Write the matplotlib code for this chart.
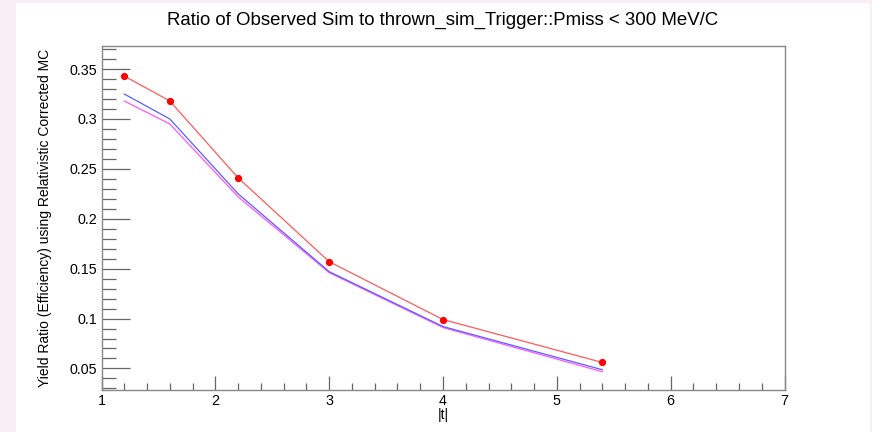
import matplotlib.pyplot as plt
from matplotlib.patches import Rectangle
from matplotlib.ticker import MultipleLocator

# valeurs
t_vals = [1.2, 1.6, 2.2, 3.0, 4.0, 5.4]
ratio_red = [0.343, 0.318, 0.241, 0.157, 0.099, 0.056]
ratio_blue = [0.325, 0.300, 0.225, 0.147, 0.092, 0.0487]
ratio_magenta = [0.318, 0.295, 0.222, 0.146, 0.091, 0.0467]

plt.rcParams['font.family'] = ['Liberation Sans', 'DejaVu Sans']

W, H = 872, 432
fig = plt.figure(figsize=(W / 100, H / 100), dpi=100)
fig.patch.set_facecolor('#f9eef3')
# zone blanche du canevas (derrière les axes)
fig.add_artist(Rectangle((16 / W, 0), (870 - 16) / W, (H - 3) / H,
                         transform=fig.transFigure, facecolor='white',
                         edgecolor='none', zorder=-10))

left, right, top, bottom = 101.5, 784.5, 45.7, 389.5
ax = fig.add_axes([left / W, 1 - bottom / H, (right - left) / W, (bottom - top) / H])
ax.set_facecolor('white')

ax.plot(t_vals, ratio_magenta, color='#ff55ff', lw=0.9)
ax.plot(t_vals, ratio_blue, color='#5c5cff', lw=0.9)
ax.plot(t_vals, ratio_red, color='#ff5a5a', lw=0.9, marker='o', ms=4.2,
        markerfacecolor='red', markeredgecolor='red')

ax.set_xlim(1, 7)
ax.set_ylim(0.0289, 0.3734)

ax.xaxis.set_major_locator(MultipleLocator(1))
ax.xaxis.set_minor_locator(MultipleLocator(0.2))
ax.yaxis.set_minor_locator(MultipleLocator(0.01))
ax.set_yticks([0.05, 0.1, 0.15, 0.2, 0.25, 0.3, 0.35])
ax.set_yticklabels(['0.05', '0.1', '0.15', '0.2', '0.25', '0.3', '0.35'])

ax.tick_params(axis='x', which='major', direction='in', length=10, width=0.9,
               color='#666666', labelsize=10.3, pad=3)
ax.tick_params(axis='x', which='minor', direction='in', length=5, width=0.9,
               color='#666666')
ax.tick_params(axis='y', which='major', direction='in', length=20, width=0.9,
               color='#666666', labelsize=10.3, pad=3)
ax.tick_params(axis='y', which='minor', direction='in', length=10, width=0.9,
               color='#666666')

for s in ax.spines.values():
    s.set_color('#888888')
    s.set_linewidth(1.0)

ax.set_xlabel('|t|', fontsize=10, labelpad=0)
fig.text(44.5 / W, 1 - 218 / H, 'Yield Ratio (Efficiency) using Relativistic Corrected MC',
         rotation=90, ha='center', va='center', fontsize=10)
fig.text(443 / W, 1 - 20 / H, 'Ratio of Observed Sim to thrown_sim_Trigger::Pmiss < 300 MeV/C',
         ha='center', va='center', fontsize=13.4)

fig.savefig('out.png', dpi=100, facecolor=fig.get_facecolor())
